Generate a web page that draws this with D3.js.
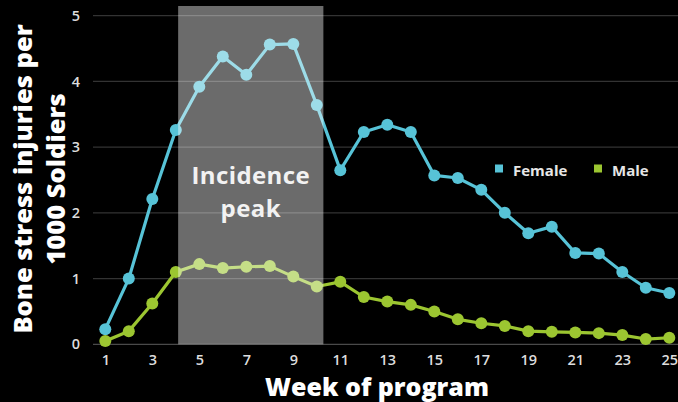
<!DOCTYPE html>
<html><head><meta charset="utf-8">
<script src="https://cdn.jsdelivr.net/npm/d3@7/dist/d3.min.js"></script>
<style>html,body{margin:0;padding:0;background:#000;}svg{display:block;}</style>
</head><body>
<script>
const weeks = d3.range(1, 26);
const female = [0.23,1.00,2.21,3.26,3.92,4.38,4.10,4.56,4.57,3.64,2.65,3.23,3.34,3.23,2.57,2.53,2.35,2.00,1.69,1.79,1.39,1.38,1.10,0.86,0.78];
const male = [0.05,0.20,0.62,1.10,1.22,1.16,1.18,1.19,1.03,0.88,0.95,0.72,0.65,0.60,0.50,0.38,0.32,0.28,0.20,0.19,0.18,0.17,0.14,0.08,0.10];
const xTicks = [1,3,5,7,9,11,13,15,17,19,21,23,25];
const yTicks = [0,1,2,3,4,5];
const peak = [4.1, 10.28];
const seriesNames = ["Female","Male"];
const colors = ["#57c3d7","#9cc631"];

const W = 678, H = 402;
const svg = d3.select("body").append("svg").attr("width", W).attr("height", H).style("background","#000");
const x = d3.scaleLinear().domain([1,25]).range([105.3,669.3]);
const y = d3.scaleLinear().domain([0,5]).range([344.3,15.7]);

// gridlines
svg.append("g").selectAll("line").data(yTicks).join("line")
  .attr("x1",93).attr("x2",678).attr("y1",d=>y(d)).attr("y2",d=>y(d))
  .attr("stroke", d=> d===0 ? "#4a4a4a" : "#333").attr("stroke-width",1.2);

// y tick labels
const yAxis = d3.axisLeft(y).tickValues(yTicks).tickSize(0).tickPadding(0).tickFormat(d3.format("d"));
svg.append("g").attr("transform","translate(80,0)").call(yAxis)
  .call(g=>g.select(".domain").remove())
  .selectAll("text").attr("fill","#dddddd").style("font-family","'Open Sans', sans-serif").style("font-size","14.5px").style("font-weight","600");

// x tick labels
const xAxis = d3.axisBottom(x).tickValues(xTicks).tickSize(0).tickPadding(0).tickFormat(d3.format("d"));
svg.append("g").attr("transform","translate(0,355)").call(xAxis)
  .call(g=>g.select(".domain").remove())
  .selectAll("text").attr("fill","#dddddd").style("font-family","'Open Sans', sans-serif").style("font-size","14.5px").style("font-weight","600");

// series
const series = [female, male];
const line = d3.line().x((d,i)=>x(weeks[i])).y(d=>y(d));
series.forEach((s,k)=>{
  svg.append("path").datum(s).attr("d",line).attr("fill","none").attr("stroke",colors[k]).attr("stroke-width",3.2).attr("stroke-linejoin","round");
  svg.append("g").selectAll("circle").data(s).join("circle")
    .attr("cx",(d,i)=>x(weeks[i])).attr("cy",d=>y(d)).attr("r",6).attr("fill",colors[k]);
});

// incidence peak rect
svg.append("rect").attr("x",x(peak[0])).attr("width",x(peak[1])-x(peak[0]))
  .attr("y",6).attr("height",y(0)-6).attr("fill","#ffffff").attr("fill-opacity",0.42);
const cx = (x(peak[0])+x(peak[1]))/2;
svg.append("text").attr("x",cx).attr("y",183.5).attr("text-anchor","middle")
  .attr("fill","#f2f2f2").style("font-family","'Open Sans', sans-serif").style("font-size","24px").style("font-weight","700").style("letter-spacing","0.4px")
  .text("Incidence");
svg.append("text").attr("x",cx).attr("y",216.5).attr("text-anchor","middle")
  .attr("fill","#f2f2f2").style("font-family","'Open Sans', sans-serif").style("font-size","24px").style("font-weight","700").style("letter-spacing","0.4px")
  .text("peak");

// legend
const legX = [495, 594];
seriesNames.forEach((n,k)=>{
  svg.append("rect").attr("x",legX[k]).attr("y",164.5).attr("width",8).attr("height",8).attr("fill",colors[k]);
  svg.append("text").attr("x",legX[k]+18).attr("y",175.5).attr("fill","#e6e6e6")
    .style("font-family","'Open Sans', sans-serif").style("font-size","15px").style("font-weight","700").text(n);
});

// axis titles
svg.append("text").attr("x",377).attr("y",396).attr("text-anchor","middle").attr("fill","#ffffff")
  .style("font-family","'Open Sans', sans-serif").style("font-size","25px").style("font-weight","800").text("Week of program");
const yt = svg.append("text").attr("transform","translate(0,179) rotate(-90)").attr("text-anchor","middle").attr("fill","#ffffff")
  .style("font-family","'Open Sans', sans-serif").style("font-size","25.5px").style("font-weight","800");
yt.append("tspan").attr("x",0).attr("y",32).text("Bone stress injuries per");
yt.append("tspan").attr("x",0).attr("y",65).text("1000 Soldiers");
</script>
</body></html>
